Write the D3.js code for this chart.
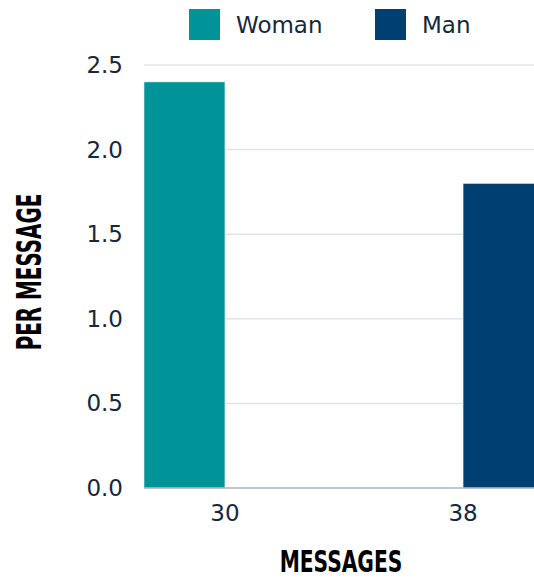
<!DOCTYPE html>
<html>
<head>
<meta charset="utf-8">
<script src="https://cdn.jsdelivr.net/npm/d3@7"></script>
<style>
  html, body { margin: 0; padding: 0; background: #fff; }
  svg { display: block; }
</style>
</head>
<body>
<div id="chart"></div>
<script>
// categories on the x axis (message count)
var categories = ['30', '38'];
// one series per legend entry
var seriesNames = ['Woman', 'Man'];
var womanValues = [2.4, 0];
var manValues = [0, 1.8];
var yTicks = [0, 0.5, 1.0, 1.5, 2.0, 2.5];

var colors = { Woman: '#009398', Man: '#003f71' };

var width = 534, height = 580;
var margin = { left: 144, top: 65, bottom: 92 };
var baseY = height - margin.bottom;
var labelFont = '"DejaVu Sans", sans-serif';

var svg = d3.select('#chart').append('svg')
    .attr('width', width)
    .attr('height', height);

var y = d3.scaleLinear()
    .domain([0, 2.5])
    .range([baseY, margin.top]);

// band scale runs past the right edge, the picture is cut there
var x = d3.scaleBand()
    .domain(categories)
    .range([margin.left, margin.left + 400])
    .paddingInner(0.32)
    .paddingOuter(0);

var xSub = d3.scaleBand()
    .domain(seriesNames)
    .range([0, x.bandwidth()]);

// gridlines + y labels
svg.append('g')
    .selectAll('line')
    .data(yTicks.filter(d => d > 0))
    .enter().append('line')
    .attr('x1', margin.left)
    .attr('x2', width)
    .attr('y1', d => y(d))
    .attr('y2', d => y(d))
    .attr('stroke', '#e2e4e7')
    .attr('stroke-width', 1.5);

svg.append('g')
    .selectAll('text')
    .data(yTicks)
    .enter().append('text')
    .attr('x', 123)
    .attr('y', d => y(d))
    .attr('dy', '0.35em')
    .attr('text-anchor', 'end')
    .attr('font-family', labelFont)
    .attr('font-size', 23)
    .attr('fill', '#16283a')
    .text(d => d.toFixed(1));

// bars
var rows = categories.map((c, i) => ({ cat: c, Woman: womanValues[i], Man: manValues[i] }));

svg.append('g')
    .selectAll('g')
    .data(rows)
    .enter().append('g')
    .attr('transform', d => 'translate(' + x(d.cat) + ',0)')
    .selectAll('rect')
    .data(d => seriesNames.map(s => ({ key: s, value: d[s] })))
    .enter().append('rect')
    .attr('x', d => xSub(d.key))
    .attr('width', xSub.bandwidth())
    .attr('y', d => y(d.value))
    .attr('height', d => baseY - y(d.value))
    .attr('fill', d => colors[d.key])
    .attr('stroke', d => d.value > 0 ? '#dfe9ee' : 'none')
    .attr('stroke-width', 0.6);

// baseline
svg.append('line')
    .attr('x1', margin.left)
    .attr('x2', width)
    .attr('y1', baseY)
    .attr('y2', baseY)
    .attr('stroke', '#aab3bb')
    .attr('stroke-width', 1.5);

// x labels
svg.append('g')
    .selectAll('text')
    .data(categories)
    .enter().append('text')
    .attr('x', d => x(d) + x.bandwidth() / 2)
    .attr('y', 513)
    .attr('dy', '0.35em')
    .attr('text-anchor', 'middle')
    .attr('font-family', labelFont)
    .attr('font-size', 23)
    .attr('fill', '#16283a')
    .text(d => d);

// axis titles, condensed heavy look
svg.append('text')
    .attr('transform', 'translate(341,561) scale(0.75,1)')
    .attr('dy', '0.35em')
    .attr('text-anchor', 'middle')
    .attr('font-family', '"DejaVu Sans Condensed", "DejaVu Sans", sans-serif')
    .attr('font-weight', 'bold')
    .attr('font-size', 30)
    .attr('fill', '#000')
    .text('MESSAGES');

svg.append('text')
    .attr('transform', 'translate(29,272) rotate(-90) scale(0.67,1)')
    .attr('dy', '0.35em')
    .attr('text-anchor', 'middle')
    .attr('font-family', '"DejaVu Sans Condensed", "DejaVu Sans", sans-serif')
    .attr('font-weight', 'bold')
    .attr('font-size', 33)
    .attr('fill', '#000')
    .text('PER MESSAGE');

// legend
var legendPos = [189, 375];
var legend = svg.append('g')
    .selectAll('g')
    .data(seriesNames)
    .enter().append('g')
    .attr('transform', (d, i) => 'translate(' + legendPos[i] + ',9)');

legend.append('rect')
    .attr('width', 31)
    .attr('height', 31)
    .attr('fill', d => colors[d]);

legend.append('text')
    .attr('x', 47)
    .attr('y', 16)
    .attr('dy', '0.35em')
    .attr('font-family', labelFont)
    .attr('font-size', 23)
    .attr('fill', '#16283a')
    .text(d => d);
</script>
</body>
</html>
